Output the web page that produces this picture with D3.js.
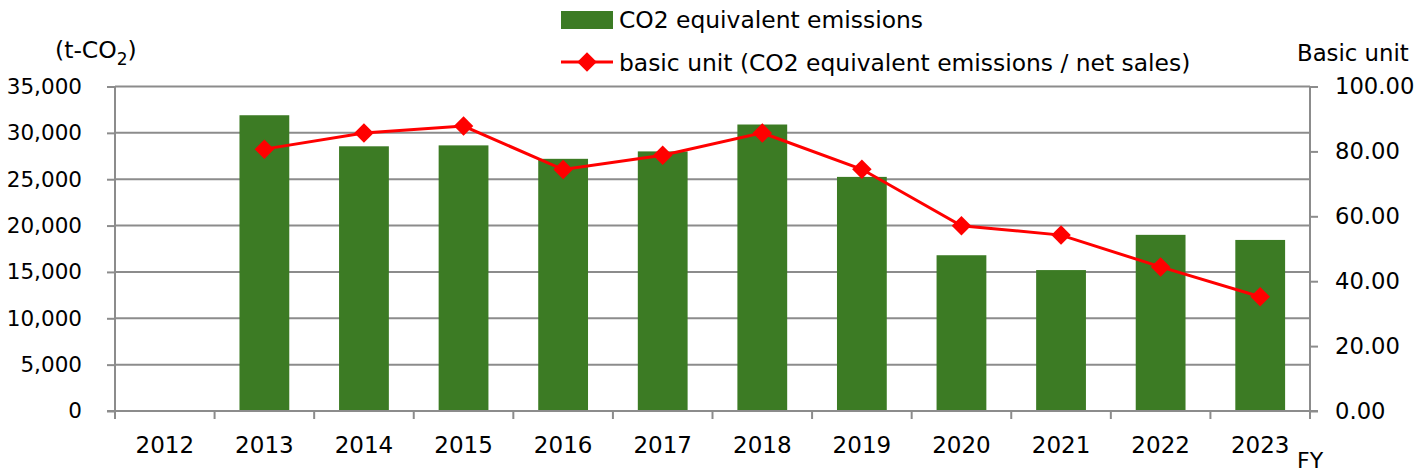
<!DOCTYPE html>
<html>
<head>
<meta charset="utf-8">
<script src="https://cdn.jsdelivr.net/npm/d3@7"></script>
<style>
  html, body { margin: 0; padding: 0; background: #fff; }
  svg { display: block; font-family: "DejaVu Sans", Verdana, sans-serif; }
</style>
</head>
<body>
<svg id="chart" width="1419" height="474"></svg>
<script>
// ---- data ----
const categories = ["2012","2013","2014","2015","2016","2017","2018","2019","2020","2021","2022","2023"];
const emissions = [null, 31900, 28550, 28650, 27200, 28000, 30900, 25250, 16800, 15200, 19000, 18450];
const basicUnit = [null, 80.7, 85.7, 87.8, 74.4, 78.8, 85.7, 74.5, 57.1, 54.2, 44.4, 35.2];
const leftTicks = [0, 5000, 10000, 15000, 20000, 25000, 30000, 35000];
const rightTicks = [0, 20, 40, 60, 80, 100];
const seriesNames = ["CO2 equivalent emissions", "basic unit (CO2 equivalent emissions / net sales)"];

// ---- layout ----
const svg = d3.select("#chart");
const L = 115, R = 1310, T = 86.5, B = 411;
const gridColor = "#8c8c8c";
const barColor = "#3c7b24";
const lineColor = "#ff0000";
const fsL = 21.5, fsT = 22.7, fsX = 23;

const x = d3.scaleBand().domain(categories).range([L, R]).paddingInner(0.5).paddingOuter(0.25);
const xb = d3.scaleBand().domain(categories).range([L, R]);
const yL = d3.scaleLinear().domain([0, 35000]).range([B, T]);
const yR = d3.scaleLinear().domain([0, 100]).range([B, T]);

// gridlines
svg.append("g").selectAll("line").data(leftTicks.filter(d => d > 0)).join("line")
  .attr("x1", L).attr("x2", R).attr("y1", d => yL(d)).attr("y2", d => yL(d))
  .attr("stroke", gridColor).attr("stroke-width", 2);

// bars
svg.append("g").selectAll("rect").data(categories.map((c, i) => ({c, v: emissions[i]})).filter(d => d.v != null))
  .join("rect")
  .attr("x", d => x(d.c)).attr("width", x.bandwidth())
  .attr("y", d => yL(d.v)).attr("height", d => yL(0) - yL(d.v))
  .attr("fill", barColor);

// left axis
const fmt = d3.format(",");
const gL = svg.append("g").attr("transform", `translate(${L},0)`)
  .call(d3.axisLeft(yL).tickValues(leftTicks).tickFormat(fmt).tickSize(8).tickPadding(25));
// right axis
const gR = svg.append("g").attr("transform", `translate(${R},0)`)
  .call(d3.axisRight(yR).tickValues(rightTicks).tickFormat(d3.format(".2f")).tickSize(8).tickPadding(17));
// bottom axis
const gB = svg.append("g").attr("transform", `translate(0,${B})`)
  .call(d3.axisBottom(xb).tickSize(0).tickPadding(26));
// x ticks at boundaries
svg.append("g").selectAll("line").data(categories.concat(["__end"])).join("line")
  .attr("x1", (d, i) => L + i * xb.step()).attr("x2", (d, i) => L + i * xb.step())
  .attr("y1", B).attr("y2", B + 8)
  .attr("stroke", gridColor).attr("stroke-width", 2);

[[gL, fsL], [gR, fsT], [gB, fsX]].forEach(([g, f]) => {
  g.selectAll(".domain").attr("stroke", gridColor).attr("stroke-width", 2);
  g.selectAll(".tick line").attr("stroke", gridColor).attr("stroke-width", 2);
  g.selectAll("text").attr("font-size", f).attr("fill", "#000").attr("font-family", "DejaVu Sans, Verdana, sans-serif");
});
gL.select(".domain").attr("d", `M0,${B}V${T}`);
gR.select(".domain").attr("d", `M0,${B}V${T}`);
gB.select(".domain").attr("d", `M${L - 8},0H${R + 8}`);

// line
const pts = categories.map((c, i) => ({c, v: basicUnit[i]})).filter(d => d.v != null);
const line = d3.line().x(d => xb(d.c) + xb.bandwidth() / 2).y(d => yR(d.v));
svg.append("path").datum(pts).attr("d", line)
  .attr("fill", "none").attr("stroke", lineColor).attr("stroke-width", 3);
const diamond = d3.symbol().type(d3.symbolSquare).size(190);
svg.append("g").selectAll("path").data(pts).join("path")
  .attr("d", diamond)
  .attr("transform", d => `translate(${xb(d.c) + xb.bandwidth() / 2},${yR(d.v)}) rotate(45)`)
  .attr("fill", lineColor);

// axis titles
const tL = svg.append("text").attr("x", 55).attr("y", 58).attr("font-size", 23.5).attr("fill", "#000");
tL.append("tspan").text("(t-CO");
tL.append("tspan").text("2").attr("font-size", 17).attr("dy", 7);
tL.append("tspan").text(")").attr("dy", -7);
svg.append("text").attr("x", 1297).attr("y", 61).attr("font-size", 22.8).attr("fill", "#000").text("Basic unit");
svg.append("text").attr("x", 1297).attr("y", 468).attr("font-size", 22).attr("fill", "#000").text("FY");

// legend
const lfs = 23.4;
const lg = svg.append("g");
lg.append("rect").attr("x", 561).attr("y", 11).attr("width", 52).attr("height", 18).attr("fill", barColor);
lg.append("text").attr("x", 619).attr("y", 28).attr("font-size", lfs).attr("fill", "#000").text(seriesNames[0]);
lg.append("line").attr("x1", 561).attr("x2", 613).attr("y1", 62).attr("y2", 62).attr("stroke", lineColor).attr("stroke-width", 3);
lg.append("path").attr("d", diamond).attr("transform", "translate(587,62) rotate(45)").attr("fill", lineColor);
lg.append("text").attr("x", 619).attr("y", 71).attr("font-size", lfs).attr("fill", "#000").text(seriesNames[1]);
</script>
</body>
</html>
